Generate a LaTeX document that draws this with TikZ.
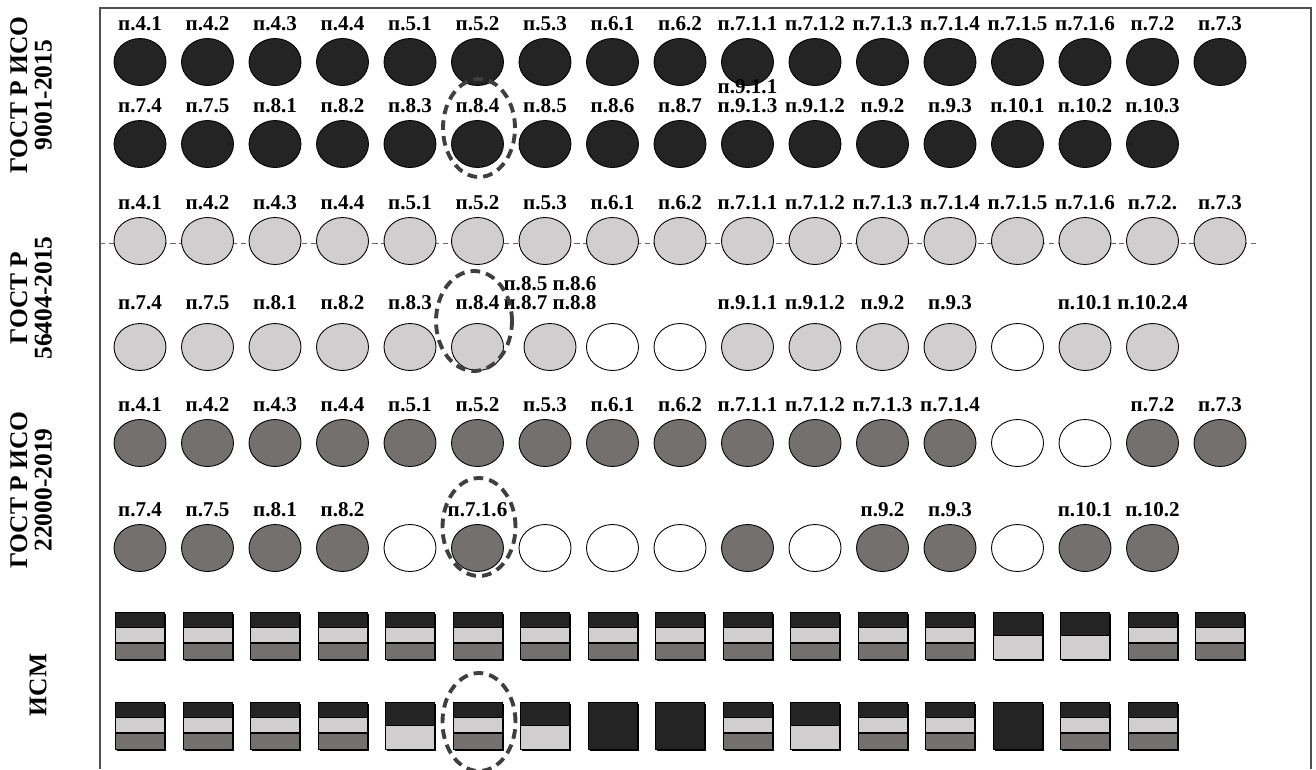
\documentclass[tikz,border=0pt]{standalone}
\usepackage{fontspec}
\setmainfont{Liberation Serif}
\usepackage{tikz}
\usetikzlibrary{positioning,shapes.geometric,shadows}

\definecolor{blk}{HTML}{242424}
\definecolor{ltg}{HTML}{D0CECE}
\definecolor{dkg}{HTML}{747070}
\definecolor{ringc}{HTML}{3F3F3F}
\definecolor{frmc}{HTML}{505050}

\tikzset{
  dot/.style={ellipse, draw=black, line width=0.5pt, minimum width=1.04cm, minimum height=0.94cm, inner sep=0pt},
  bk/.style={dot, fill=blk},
  lg/.style={dot, fill=ltg},
  dg/.style={dot, fill=dkg},
  wt/.style={dot, fill=white},
  lbl/.style={font=\bfseries\fontsize{12}{11}\selectfont, inner sep=0pt, align=center},
  std/.style={font=\bfseries\fontsize{14.5}{14}\selectfont, rotate=90, align=center, inner sep=0pt},
  sq/.style={rectangle, draw=black, line width=0.5pt, minimum width=0.98cm, minimum height=0.94cm, inner sep=0pt,
    drop shadow={shadow xshift=0.035cm, shadow yshift=-0.035cm, fill=black, opacity=1}},
  sq3/.style={sq, fill=ltg, path picture={
      \fill[blk] (path picture bounding box.north west) rectangle ([yshift=-0.30cm]path picture bounding box.north east);
      \fill[dkg] (path picture bounding box.south west) rectangle ([yshift=0.33cm]path picture bounding box.south east);
      \draw[line width=0.6pt] ([yshift=-0.30cm]path picture bounding box.north west) -- ([yshift=-0.30cm]path picture bounding box.north east);
      \draw[line width=0.6pt] ([yshift=0.33cm]path picture bounding box.south west) -- ([yshift=0.33cm]path picture bounding box.south east);
    }},
  sq2/.style={sq, fill=ltg, path picture={
      \fill[blk] (path picture bounding box.north west) rectangle ([yshift=-0.46cm]path picture bounding box.north east);
      \draw[line width=0.6pt] ([yshift=-0.46cm]path picture bounding box.north west) -- ([yshift=-0.46cm]path picture bounding box.north east);
    }},
  sq1/.style={sq, fill=blk},
  ring/.style={ellipse, draw=ringc, line width=2.2pt, dash pattern=on 5.5pt off 3.5pt, inner sep=0pt},
  frm/.style={draw=frmc, line width=0.9pt},
  midline/.style={draw=black!60, line width=0.5pt, dash pattern=on 3pt off 2pt}
}

\begin{document}
\begin{tikzpicture}[x=0.02cm,y=-0.02cm,label distance=0.13cm]
\useasboundingbox (0,0) rectangle (1316,769);

% frame and standards
\draw[frm] (100,769) -- (100,8) -- (1311,8) -- (1311,769);
\node[std] (t1) at (31,95) {ГОСТ Р ИСО\\9001-2015};
\node[std] (t2) at (31,298) {ГОСТ Р\\56404-2015};
\node[std] (t3) at (31,490) {ГОСТ Р ИСО\\22000-2019};
\node[std] (t4) at (38,685) {ИСМ};

% ГОСТ Р ИСО 9001-2015
\node[bk,label={[lbl]above:п.4.1}] (a0) at (140,62) {};
\node[bk,label={[lbl]above:п.4.2}] (a1) at (207.5,62) {};
\node[bk,label={[lbl]above:п.4.3}] (a2) at (275,62) {};
\node[bk,label={[lbl]above:п.4.4}] (a3) at (342.5,62) {};
\node[bk,label={[lbl]above:п.5.1}] (a4) at (410,62) {};
\node[bk,label={[lbl]above:п.5.2}] (a5) at (477.5,62) {};
\node[bk,label={[lbl]above:п.5.3}] (a6) at (545,62) {};
\node[bk,label={[lbl]above:п.6.1}] (a7) at (612.5,62) {};
\node[bk,label={[lbl]above:п.6.2}] (a8) at (680,62) {};
\node[bk,label={[lbl]above:п.7.1.1}] (a9) at (747.5,62) {};
\node[bk,label={[lbl]above:п.7.1.2}] (a10) at (815,62) {};
\node[bk,label={[lbl]above:п.7.1.3}] (a11) at (882.5,62) {};
\node[bk,label={[lbl]above:п.7.1.4}] (a12) at (950,62) {};
\node[bk,label={[lbl]above:п.7.1.5}] (a13) at (1017.5,62) {};
\node[bk,label={[lbl]above:п.7.1.6}] (a14) at (1085,62) {};
\node[bk,label={[lbl]above:п.7.2}] (a15) at (1152.5,62) {};
\node[bk,label={[lbl]above:п.7.3}] (a16) at (1220,62) {};

\node[bk,label={[lbl]above:п.7.4}] (b0) at (140,144) {};
\node[bk,label={[lbl]above:п.7.5}] (b1) at (207.5,144) {};
\node[bk,label={[lbl]above:п.8.1}] (b2) at (275,144) {};
\node[bk,label={[lbl]above:п.8.2}] (b3) at (342.5,144) {};
\node[bk,label={[lbl]above:п.8.3}] (b4) at (410,144) {};
\node[bk,label={[lbl]above:п.8.4}] (b5) at (477.5,144) {};
\node[bk,label={[lbl]above:п.8.5}] (b6) at (545,144) {};
\node[bk,label={[lbl]above:п.8.6}] (b7) at (612.5,144) {};
\node[bk,label={[lbl]above:п.8.7}] (b8) at (680,144) {};
\node[bk,label={[lbl]above:п.9.1.1\\п.9.1.3}] (b9) at (747.5,144) {};
\node[bk,label={[lbl]above:п.9.1.2}] (b10) at (815,144) {};
\node[bk,label={[lbl]above:п.9.2}] (b11) at (882.5,144) {};
\node[bk,label={[lbl]above:п.9.3}] (b12) at (950,144) {};
\node[bk,label={[lbl]above:п.10.1}] (b13) at (1017.5,144) {};
\node[bk,label={[lbl]above:п.10.2}] (b14) at (1085,144) {};
\node[bk,label={[lbl]above:п.10.3}] (b15) at (1152.5,144) {};

% ГОСТ Р 56404-2015
\draw[midline] (100,243) -- (1256,243);
\node[lg,label={[lbl]above:п.4.1}] (c0) at (140,241) {};
\node[lg,label={[lbl]above:п.4.2}] (c1) at (207.5,241) {};
\node[lg,label={[lbl]above:п.4.3}] (c2) at (275,241) {};
\node[lg,label={[lbl]above:п.4.4}] (c3) at (342.5,241) {};
\node[lg,label={[lbl]above:п.5.1}] (c4) at (410,241) {};
\node[lg,label={[lbl]above:п.5.2}] (c5) at (477.5,241) {};
\node[lg,label={[lbl]above:п.5.3}] (c6) at (545,241) {};
\node[lg,label={[lbl]above:п.6.1}] (c7) at (612.5,241) {};
\node[lg,label={[lbl]above:п.6.2}] (c8) at (680,241) {};
\node[lg,label={[lbl]above:п.7.1.1}] (c9) at (747.5,241) {};
\node[lg,label={[lbl]above:п.7.1.2}] (c10) at (815,241) {};
\node[lg,label={[lbl]above:п.7.1.3}] (c11) at (882.5,241) {};
\node[lg,label={[lbl]above:п.7.1.4}] (c12) at (950,241) {};
\node[lg,label={[lbl]above:п.7.1.5}] (c13) at (1017.5,241) {};
\node[lg,label={[lbl]above:п.7.1.6}] (c14) at (1085,241) {};
\node[lg,label={[lbl]above:п.7.2.}] (c15) at (1152.5,241) {};
\node[lg,label={[lbl]above:п.7.3}] (c16) at (1220,241) {};

\begin{scope}[label distance=0.26cm]
\node[lg,label={[lbl]above:п.7.4}] (d0) at (140,347) {};
\node[lg,label={[lbl]above:п.7.5}] (d1) at (207.5,347) {};
\node[lg,label={[lbl]above:п.8.1}] (d2) at (275,347) {};
\node[lg,label={[lbl]above:п.8.2}] (d3) at (342.5,347) {};
\node[lg,label={[lbl]above:п.8.3}] (d4) at (410,347) {};
\node[lg,label={[lbl]above:п.8.4}] (d5) at (477.5,347) {};
\node[lg,label={[lbl,align=left]above:п.8.5 п.8.6\\п.8.7 п.8.8}] (d6) at (550,347) {};
\node[wt] (d7) at (612.5,347) {};
\node[wt] (d8) at (680,347) {};
\node[lg,label={[lbl]above:п.9.1.1}] (d9) at (747.5,347) {};
\node[lg,label={[lbl]above:п.9.1.2}] (d10) at (815,347) {};
\node[lg,label={[lbl]above:п.9.2}] (d11) at (882.5,347) {};
\node[lg,label={[lbl]above:п.9.3}] (d12) at (950,347) {};
\node[wt] (d13) at (1017.5,347) {};
\node[lg,label={[lbl]above:п.10.1}] (d14) at (1085,347) {};
\node[lg,label={[lbl]above:п.10.2.4}] (d15) at (1152.5,347) {};
\end{scope}

% ГОСТ Р ИСО 22000-2019
\node[dg,label={[lbl]above:п.4.1}] (e0) at (140,443) {};
\node[dg,label={[lbl]above:п.4.2}] (e1) at (207.5,443) {};
\node[dg,label={[lbl]above:п.4.3}] (e2) at (275,443) {};
\node[dg,label={[lbl]above:п.4.4}] (e3) at (342.5,443) {};
\node[dg,label={[lbl]above:п.5.1}] (e4) at (410,443) {};
\node[dg,label={[lbl]above:п.5.2}] (e5) at (477.5,443) {};
\node[dg,label={[lbl]above:п.5.3}] (e6) at (545,443) {};
\node[dg,label={[lbl]above:п.6.1}] (e7) at (612.5,443) {};
\node[dg,label={[lbl]above:п.6.2}] (e8) at (680,443) {};
\node[dg,label={[lbl]above:п.7.1.1}] (e9) at (747.5,443) {};
\node[dg,label={[lbl]above:п.7.1.2}] (e10) at (815,443) {};
\node[dg,label={[lbl]above:п.7.1.3}] (e11) at (882.5,443) {};
\node[dg,label={[lbl]above:п.7.1.4}] (e12) at (950,443) {};
\node[wt] (e13) at (1017.5,443) {};
\node[wt] (e14) at (1085,443) {};
\node[dg,label={[lbl]above:п.7.2}] (e15) at (1152.5,443) {};
\node[dg,label={[lbl]above:п.7.3}] (e16) at (1220,443) {};

\node[dg,label={[lbl]above:п.7.4}] (f0) at (140,548) {};
\node[dg,label={[lbl]above:п.7.5}] (f1) at (207.5,548) {};
\node[dg,label={[lbl]above:п.8.1}] (f2) at (275,548) {};
\node[dg,label={[lbl]above:п.8.2}] (f3) at (342.5,548) {};
\node[wt] (f4) at (410,548) {};
\node[dg,label={[lbl]above:п.7.1.6}] (f5) at (477.5,548) {};
\node[wt] (f6) at (545,548) {};
\node[wt] (f7) at (612.5,548) {};
\node[wt] (f8) at (680,548) {};
\node[dg] (f9) at (747.5,548) {};
\node[wt] (f10) at (815,548) {};
\node[dg,label={[lbl]above:п.9.2}] (f11) at (882.5,548) {};
\node[dg,label={[lbl]above:п.9.3}] (f12) at (950,548) {};
\node[wt] (f13) at (1017.5,548) {};
\node[dg,label={[lbl]above:п.10.1}] (f14) at (1085,548) {};
\node[dg,label={[lbl]above:п.10.2}] (f15) at (1152.5,548) {};

% ИСМ
\node[sq3] (g0) at (140,636) {};
\node[sq3] (g1) at (207.5,636) {};
\node[sq3] (g2) at (275,636) {};
\node[sq3] (g3) at (342.5,636) {};
\node[sq3] (g4) at (410,636) {};
\node[sq3] (g5) at (477.5,636) {};
\node[sq3] (g6) at (545,636) {};
\node[sq3] (g7) at (612.5,636) {};
\node[sq3] (g8) at (680,636) {};
\node[sq3] (g9) at (747.5,636) {};
\node[sq3] (g10) at (815,636) {};
\node[sq3] (g11) at (882.5,636) {};
\node[sq3] (g12) at (950,636) {};
\node[sq2] (g13) at (1017.5,636) {};
\node[sq2] (g14) at (1085,636) {};
\node[sq3] (g15) at (1152.5,636) {};
\node[sq3] (g16) at (1220,636) {};

\node[sq3] (h0) at (140,726) {};
\node[sq3] (h1) at (207.5,726) {};
\node[sq3] (h2) at (275,726) {};
\node[sq3] (h3) at (342.5,726) {};
\node[sq2] (h4) at (410,726) {};
\node[sq3] (h5) at (477.5,726) {};
\node[sq2] (h6) at (545,726) {};
\node[sq1] (h7) at (612.5,726) {};
\node[sq1] (h8) at (680,726) {};
\node[sq3] (h9) at (747.5,726) {};
\node[sq2] (h10) at (815,726) {};
\node[sq3] (h11) at (882.5,726) {};
\node[sq3] (h12) at (950,726) {};
\node[sq1] (h13) at (1017.5,726) {};
\node[sq3] (h14) at (1085,726) {};
\node[sq3] (h15) at (1152.5,726) {};

% dashed marks
\node[ring,minimum width=1.44cm,minimum height=1.96cm] (s1) at (479,128) {};
\node[ring,minimum width=1.52cm,minimum height=2.0cm] (s2) at (474,321) {};
\node[ring,minimum width=1.46cm,minimum height=1.96cm] (s3) at (479,527) {};
\node[ring,minimum width=1.46cm,minimum height=1.96cm] (s4) at (479,722) {};
\end{tikzpicture}
\end{document}
